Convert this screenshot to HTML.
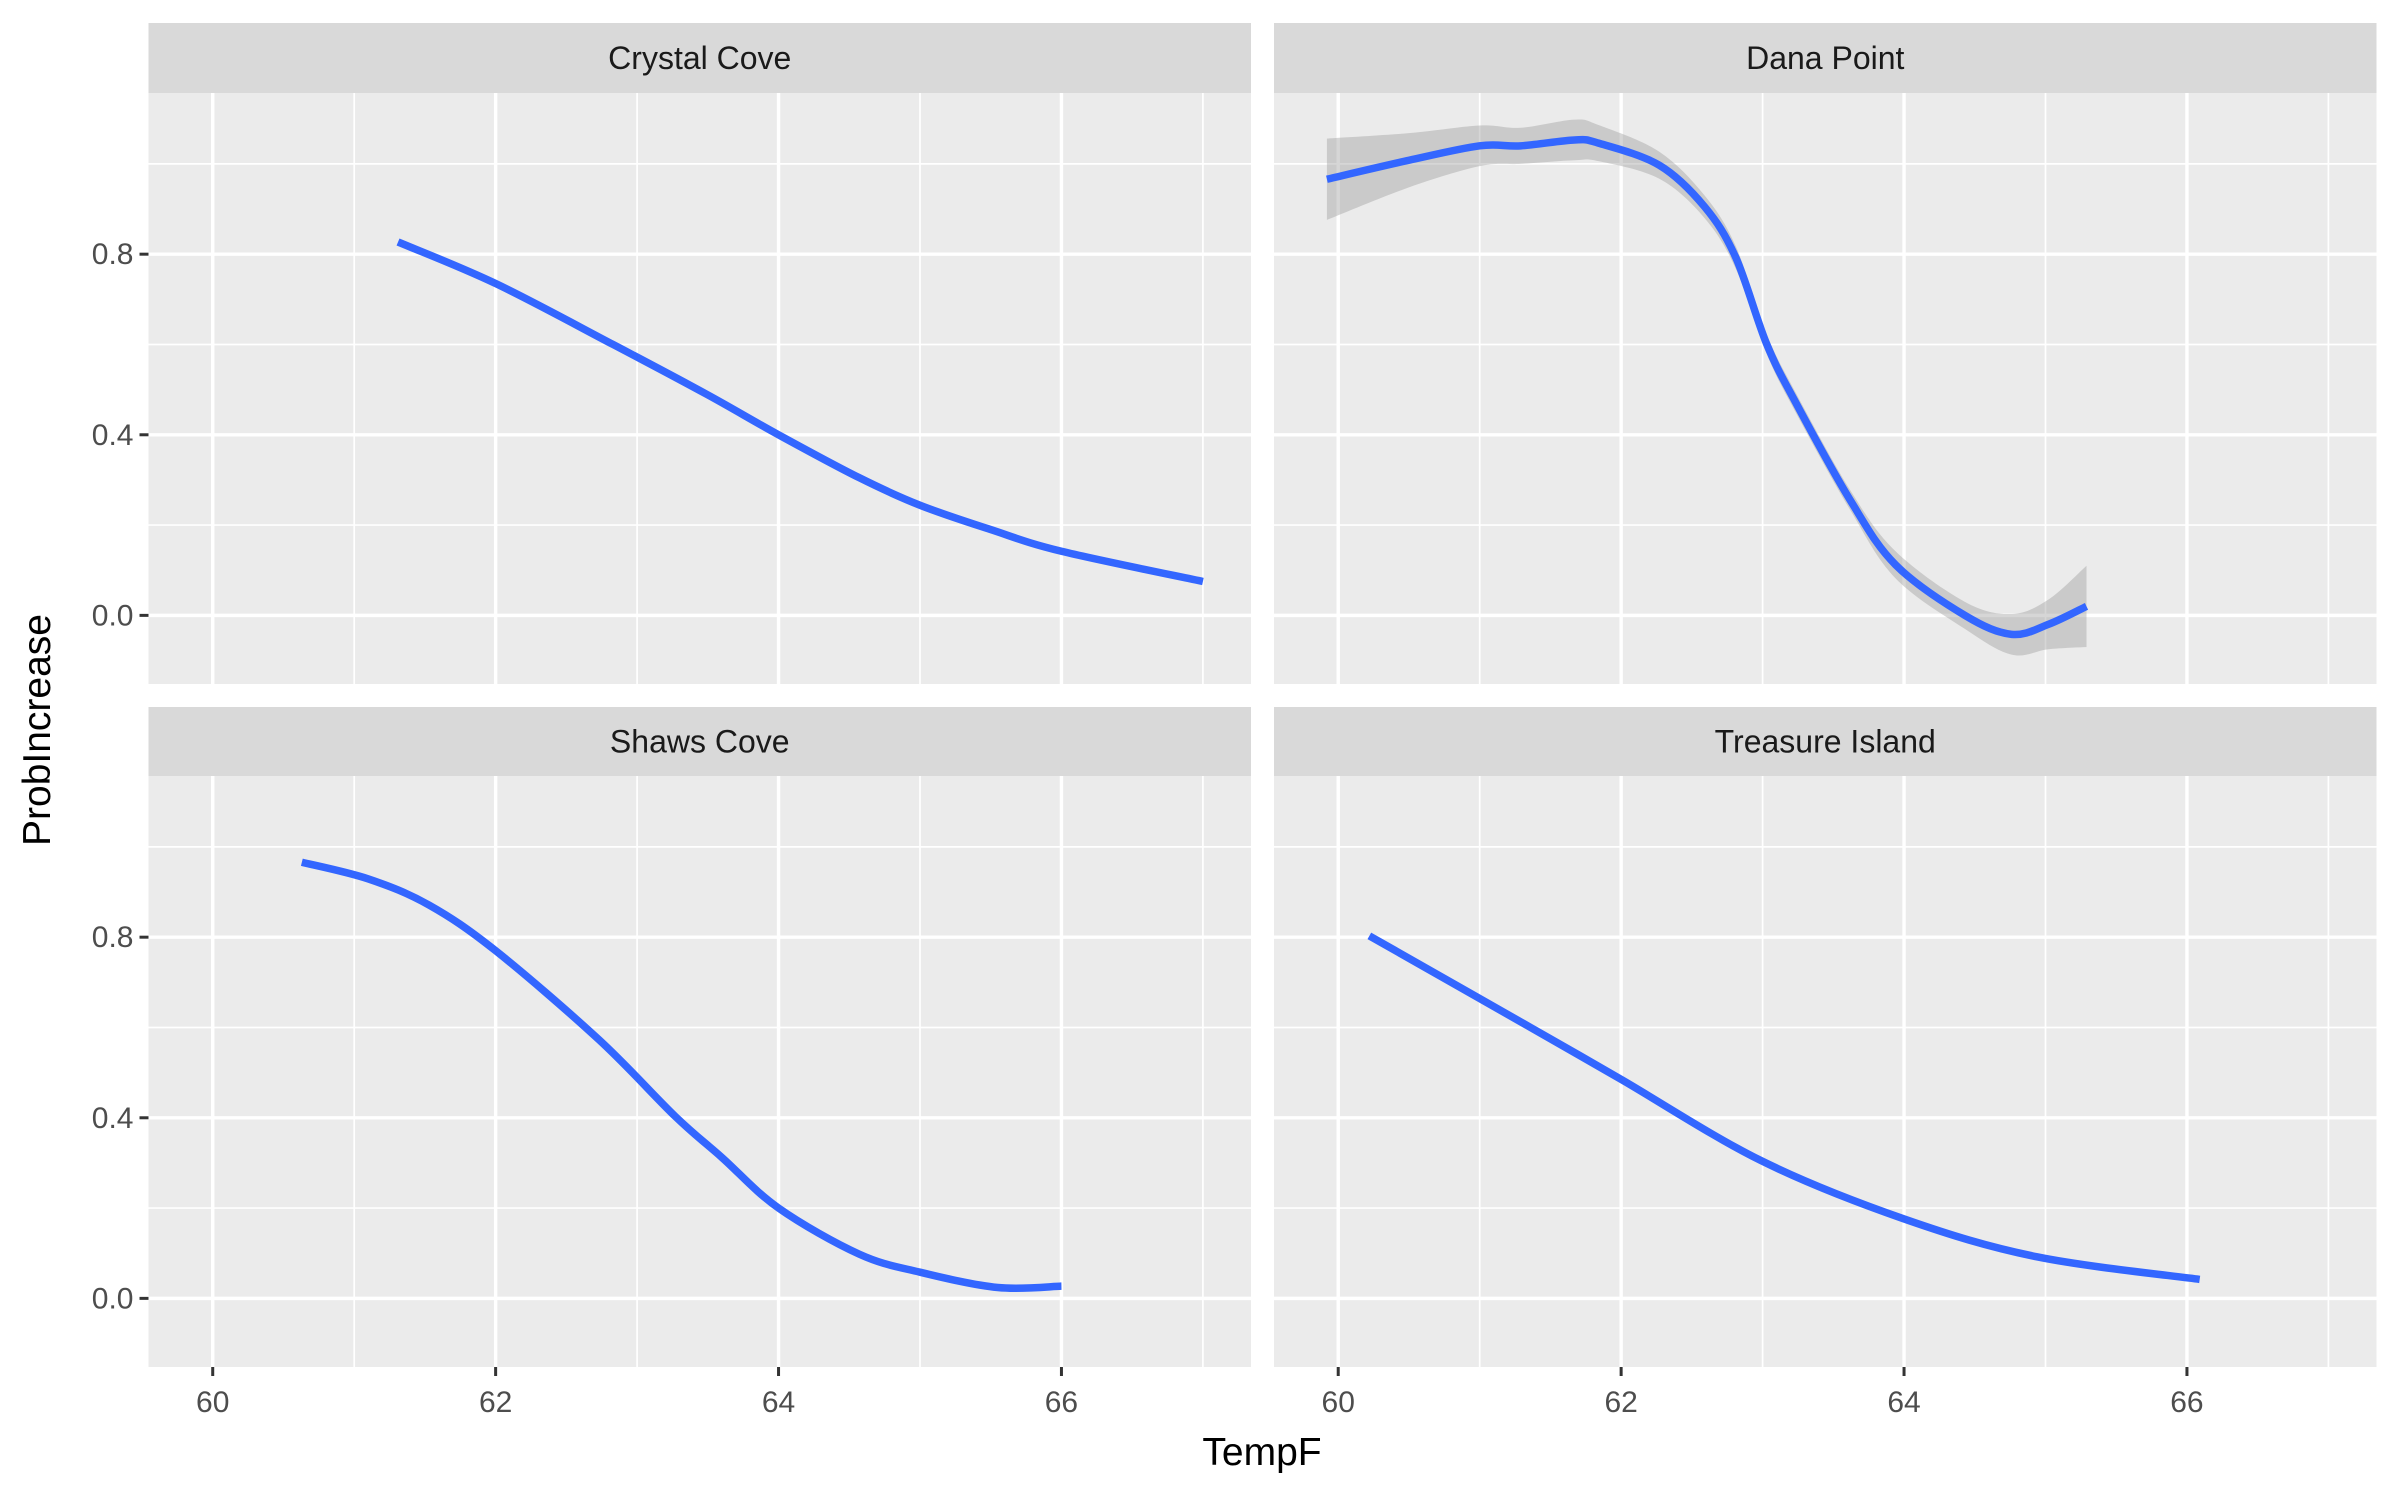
<!DOCTYPE html>
<html><head><meta charset="utf-8"><style>
html,body{margin:0;padding:0;background:#fff;}
svg text{font-family:"Liberation Sans",sans-serif;}
</style></head><body>
<svg id="chart" width="2400" height="1500" viewBox="0 0 2400 1500" xmlns="http://www.w3.org/2000/svg">
<g id="root"></g>
</svg>
<script>
const panelNames = ["Crystal Cove","Dana Point","Shaws Cove","Treasure Island"];
const xTicks = [60,62,64,66];
const yTicks = [0.0,0.4,0.8];
const yTickLabels = ["0.0","0.4","0.8"];
const ccX = [61.31,62.0,62.83,63.49,64.0,64.57,65.0,65.5,66.0,67.0];
const ccY = [0.827,0.735,0.6,0.49,0.40,0.305,0.244,0.19,0.142,0.075];
const dpX = [59.92,60.5,61.0,61.29,61.67,61.84,62.27,62.59,62.81,63.03,63.24,63.62,63.94,64.43,64.76,65.02,65.29];
const dpY = [0.966,1.008,1.04,1.04,1.053,1.046,0.997,0.905,0.793,0.60,0.468,0.255,0.112,0.0,-0.042,-0.02,0.02];
const dpSe = [0.09,0.06,0.045,0.04,0.045,0.04,0.03,0.025,0.025,0.022,0.022,0.022,0.03,0.03,0.045,0.055,0.09];
const scX = [60.63,61.1,61.53,62.0,62.73,63.27,63.6,64.0,64.57,65.0,65.55,66.0];
const scY = [0.966,0.929,0.871,0.77,0.573,0.403,0.312,0.2,0.098,0.058,0.024,0.027];
const tiX = [60.22,61.36,62.0,62.99,64.0,64.94,66.09];
const tiY = [0.803,0.6,0.485,0.305,0.176,0.092,0.042];

const NS="http://www.w3.org/2000/svg";
const root=document.getElementById('root');
const XMIN=59.546,XMAX=67.34,YMIN=-0.152,YMAX=1.157;
const PW=1102.5,PH=591;
const panels=[{x:148.5,y:93,sy:23},{x:1274,y:93,sy:23},{x:148.5,y:776,sy:707},{x:1274,y:776,sy:707}];
function mk(tag,attrs,parent){const e=document.createElementNS(NS,tag);for(const k in attrs)e.setAttribute(k,attrs[k]);(parent||root).appendChild(e);return e;}
function smooth(pts){let d="M"+pts[0][0]+","+pts[0][1];for(let i=0;i<pts.length-1;i++){const p0=pts[Math.max(0,i-1)],p1=pts[i],p2=pts[i+1],p3=pts[Math.min(pts.length-1,i+2)];const c1=[p1[0]+(p2[0]-p0[0])/6,p1[1]+(p2[1]-p0[1])/6],c2=[p2[0]-(p3[0]-p1[0])/6,p2[1]-(p3[1]-p1[1])/6];d+=" C"+c1[0]+","+c1[1]+" "+c2[0]+","+c2[1]+" "+p2[0]+","+p2[1];}return d;}
const series=[[ccX,ccY,null],[dpX,dpY,dpSe],[scX,scY,null],[tiX,tiY,null]];
panels.forEach((p,i)=>{
  const sx=v=>p.x+(v-XMIN)/(XMAX-XMIN)*PW;
  const sy=v=>p.y+(YMAX-v)/(YMAX-YMIN)*PH;
  const g=mk('g',{});
  
  
  const strip=mk('rect',{x:p.x,y:p.sy,width:PW,height:p.y-p.sy,fill:'#d9d9d9'},g);
  
  
  const st=mk('text',{x:p.x+PW/2,y:(p.sy+p.y)/2+11,'text-anchor':'middle','font-size':'32','fill':'#1a1a1a'},g);
  st.textContent=panelNames[i];
  
  
  const bg=mk('rect',{x:p.x,y:p.y,width:PW,height:PH,fill:'#ebebeb'},g);
  
  
  [-0.2,0.2,0.6,1.0].forEach(v=>{const l=mk('line',{x1:p.x,x2:p.x+PW,y1:sy(v),y2:sy(v),stroke:'#fff','stroke-width':1.7},g);});
  [61,63,65,67].forEach(v=>{const l=mk('line',{x1:sx(v),x2:sx(v),y1:p.y,y2:p.y+PH,stroke:'#fff','stroke-width':1.7},g);});
  yTicks.forEach(v=>{const l=mk('line',{x1:p.x,x2:p.x+PW,y1:sy(v),y2:sy(v),stroke:'#fff','stroke-width':3.4},g);});
  xTicks.forEach(v=>{const l=mk('line',{x1:sx(v),x2:sx(v),y1:p.y,y2:p.y+PH,stroke:'#fff','stroke-width':3.4},g);});
  const [xs,ys,se]=series[i];
  if(se){const up=xs.map((x,k)=>[sx(x),sy(ys[k]+se[k])]);const lo=xs.map((x,k)=>[sx(x),sy(ys[k]-se[k])]).reverse();
    const sl=smooth(lo);
    const d=smooth(up)+" L"+lo[0][0]+","+lo[0][1]+sl.slice(sl.indexOf(' '))+" Z";
    const r=mk('path',{d:d,fill:'#999999','fill-opacity':0.4,stroke:'none'},g);
    
    }
  const pts=xs.map((x,k)=>[sx(x),sy(ys[k])]);
  const ln=mk('path',{d:smooth(pts),fill:'none',stroke:'#3366FF','stroke-width':7.5},g);
  
  
  if(i%2===0){yTicks.forEach((v,k)=>{mk('line',{x1:p.x-9,x2:p.x,y1:sy(v),y2:sy(v),stroke:'#333','stroke-width':3},g);const t=mk('text',{x:p.x-15,y:sy(v)+10,'text-anchor':'end','font-size':'30','fill':'#4d4d4d'},g);t.textContent=yTickLabels[k];});}
  if(i>=2){xTicks.forEach(v=>{mk('line',{x1:sx(v),x2:sx(v),y1:p.y+PH,y2:p.y+PH+9,stroke:'#333','stroke-width':3},g);const t=mk('text',{x:sx(v),y:p.y+PH+45,'text-anchor':'middle','font-size':'30','fill':'#4d4d4d'},g);t.textContent=v;});}
});
const xt=mk('text',{x:1262,y:1465,'text-anchor':'middle','font-size':'39','fill':'#000'});
xt.textContent='TempF';


const yt=mk('text',{x:0,y:0,'text-anchor':'middle','font-size':'39','fill':'#000',transform:'translate(50,730) rotate(-90)'});
yt.textContent='ProbIncrease';


</script>
</body></html>
